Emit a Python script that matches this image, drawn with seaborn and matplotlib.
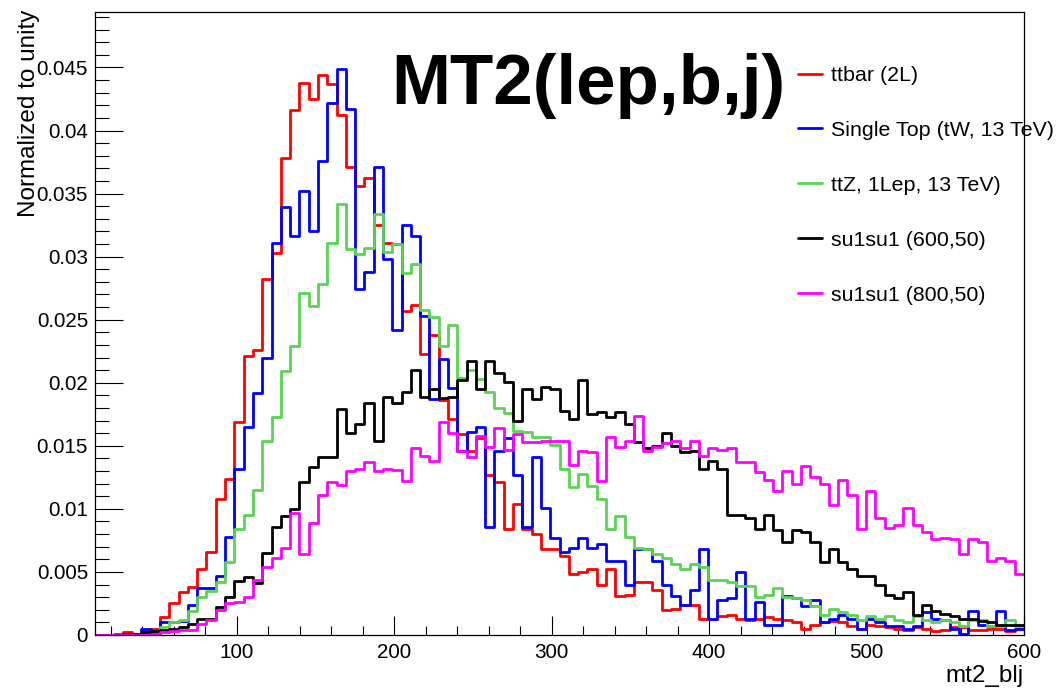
import numpy as np
import pandas as pd
import seaborn as sns
import matplotlib
matplotlib.use("Agg")
import matplotlib.pyplot as plt
from matplotlib.ticker import MultipleLocator, FormatStrFormatter
from matplotlib.lines import Line2D

# ---------------- data (100 bins from 10 to 600) ----------------
x_min, x_max, n_bins = 10, 600, 100

ttbar = [0, 0, 0.0001, 0.0002, 0.0001, 0.0004, 0.0005, 0.0014, 0.0025, 0.0034,
         0.0038, 0.0052, 0.0066, 0.0108, 0.0124, 0.0169, 0.0221, 0.0226, 0.0282, 0.0303,
         0.0378, 0.0416, 0.0438, 0.0425, 0.0444, 0.0437, 0.0412, 0.0371, 0.0356, 0.0362,
         0.0325, 0.0311, 0.0310, 0.0257, 0.0262, 0.0223, 0.0238, 0.0186, 0.0171, 0.0159,
         0.0146, 0.0156, 0.0127, 0.0121, 0.0084, 0.0104, 0.0084, 0.0080, 0.0068, 0.0068,
         0.0063, 0.0048, 0.0050, 0.0052, 0.0040, 0.0052, 0.0031, 0.0032, 0.0042, 0.0042,
         0.0036, 0.0020, 0.0021, 0.0024, 0.0024, 0.0013, 0.0013, 0.0015, 0.0016, 0.0013,
         0.0012, 0.0013, 0.0014, 0.0013, 0.0012, 0.0010, 0.0005, 0.0008, 0.0010, 0.0011,
         0.0010, 0.0007, 0.0005, 0.0008, 0.0007, 0.0006, 0.0005, 0.0004, 0.0006, 0.0005,
         0.0003, 0.0004, 0.0006, 0.0006, 0.0004, 0.0004, 0.0005, 0.0005, 0.0003, 0.0005]

single_top = [0, 0, 0, 0, 0.0001, 0.0005, 0.0001, 0.0010, 0.0010, 0.0011,
              0.0024, 0.0037, 0.0037, 0.0047, 0.0078, 0.0132, 0.0165, 0.0192, 0.0220, 0.0311,
              0.0339, 0.0316, 0.0352, 0.0320, 0.0376, 0.0422, 0.0449, 0.0417, 0.0274, 0.0288,
              0.0371, 0.0298, 0.0242, 0.0325, 0.0316, 0.0253, 0.0187, 0.0219, 0.0196, 0.0146,
              0.0161, 0.0165, 0.0086, 0.0146, 0.0156, 0.0127, 0.0086, 0.0141, 0.0101, 0.0077,
              0.0066, 0.0069, 0.0077, 0.0069, 0.0072, 0.0059, 0.0059, 0.0040, 0.0068, 0.0068,
              0.0059, 0.0040, 0.0031, 0.0024, 0.0036, 0.0068, 0.0013, 0.0028, 0.0029, 0.0050,
              0.0013, 0.0026, 0.0008, 0.0008, 0.0031, 0.0029, 0.0023, 0.0028, 0.0010, 0.0013,
              0.0016, 0.0013, 0.0005, 0.0013, 0.0010, 0.0007, 0.0007, 0.0005, 0.0007, 0.0018,
              0.0013, 0.0012, 0.0005, 0.0001, 0.0019, 0.0008, 0.0007, 0.0019, 0.0004, 0.0005]

ttz = [0, 0, 0, 0, 0.0001, 0.0002, 0.0003, 0.0006, 0.0010, 0.0012,
       0.0019, 0.0030, 0.0035, 0.0042, 0.0058, 0.0084, 0.0095, 0.0115, 0.0154, 0.0173,
       0.0209, 0.0229, 0.0271, 0.0261, 0.0278, 0.0311, 0.0342, 0.0306, 0.0302, 0.0307,
       0.0334, 0.0304, 0.0310, 0.0287, 0.0294, 0.0258, 0.0252, 0.0229, 0.0246, 0.0204,
       0.0210, 0.0203, 0.0193, 0.0180, 0.0176, 0.0162, 0.0161, 0.0157, 0.0157, 0.0151,
       0.0132, 0.0117, 0.0128, 0.0118, 0.0108, 0.0084, 0.0094, 0.0078, 0.0069, 0.0068,
       0.0064, 0.0061, 0.0056, 0.0052, 0.0056, 0.0054, 0.0044, 0.0044, 0.0042, 0.0039,
       0.0039, 0.0030, 0.0032, 0.0037, 0.0030, 0.0029, 0.0028, 0.0023, 0.0016, 0.0021,
       0.0018, 0.0016, 0.0012, 0.0015, 0.0013, 0.0015, 0.0012, 0.0010, 0.0015, 0.0012,
       0.0010, 0.0012, 0.0010, 0.0007, 0.0012, 0.0012, 0.0007, 0.0007, 0.0012, 0.0007]

su600 = [0, 0, 0, 0.0001, 0.0001, 0.0002, 0.0003, 0.0004, 0.0005, 0.0006,
         0.0009, 0.0013, 0.0013, 0.0022, 0.0030, 0.0043, 0.0046, 0.0041, 0.0065, 0.0086,
         0.0094, 0.0100, 0.0121, 0.0133, 0.0141, 0.0141, 0.0179, 0.0160, 0.0167, 0.0184,
         0.0154, 0.0189, 0.0184, 0.0193, 0.0210, 0.0189, 0.0195, 0.0188, 0.0189, 0.0202,
         0.0217, 0.0195, 0.0217, 0.0208, 0.0201, 0.0170, 0.0195, 0.0187, 0.0197, 0.0195,
         0.0178, 0.0171, 0.0202, 0.0175, 0.0177, 0.0173, 0.0177, 0.0167, 0.0153, 0.0148,
         0.0150, 0.0160, 0.0150, 0.0145, 0.0146, 0.0132, 0.0138, 0.0132, 0.0095, 0.0095,
         0.0093, 0.0084, 0.0095, 0.0083, 0.0074, 0.0083, 0.0082, 0.0074, 0.0058, 0.0068,
         0.0058, 0.0052, 0.0047, 0.0047, 0.0040, 0.0032, 0.0029, 0.0034, 0.0016, 0.0024,
         0.0019, 0.0017, 0.0015, 0.0013, 0.0013, 0.0011, 0.0010, 0.0008, 0.0008, 0.0008]

su800 = [0, 0, 0, 0, 0, 0, 0.0001, 0.0002, 0.0003, 0.0004,
         0.0004, 0.0009, 0.0012, 0.0020, 0.0025, 0.0026, 0.0030, 0.0044, 0.0054, 0.0061,
         0.0069, 0.0097, 0.0064, 0.0089, 0.0111, 0.0121, 0.0119, 0.0130, 0.0132, 0.0137,
         0.0130, 0.0132, 0.0131, 0.0122, 0.0148, 0.0142, 0.0138, 0.0169, 0.0160, 0.0146,
         0.0141, 0.0158, 0.0149, 0.0164, 0.0147, 0.0159, 0.0153, 0.0153, 0.0154, 0.0154,
         0.0154, 0.0135, 0.0146, 0.0145, 0.0122, 0.0157, 0.0149, 0.0154, 0.0174, 0.0146,
         0.0149, 0.0152, 0.0154, 0.0148, 0.0154, 0.0142, 0.0148, 0.0147, 0.0148, 0.0137,
         0.0137, 0.0129, 0.0123, 0.0114, 0.0130, 0.0120, 0.0134, 0.0125, 0.0120, 0.0103,
         0.0123, 0.0111, 0.0084, 0.0114, 0.0093, 0.0085, 0.0087, 0.0101, 0.0087, 0.0082,
         0.0076, 0.0077, 0.0076, 0.0064, 0.0076, 0.0074, 0.0059, 0.0061, 0.0059, 0.0048]

labels = ["ttbar (2L)", "Single Top (tW, 13 TeV)", "ttZ, 1Lep, 13 TeV)",
          "su1su1 (600,50)", "su1su1 (800,50)"]
series = [ttbar, single_top, ttz, su600, su800]
colors = ["#ff0000", "#0000ff", "#59d454", "#000000", "#ff00ff"]

title = "MT2(lep,b,j)"
x_label = "mt2_blj"
y_label = "Normalized to unity"

# ---------------- plotting ----------------
sns.set_style("ticks")
plt.rcParams['font.family'] = ['Liberation Sans', 'DejaVu Sans']
plt.rcParams.update({"text.color": "black", "axes.labelcolor": "black",
                     "xtick.color": "black", "ytick.color": "black",
                     "axes.edgecolor": "black"})

W, H = 1064, 688
fig = plt.figure(figsize=(W / 100, H / 100), dpi=100)
ax = fig.add_axes([95 / W, 1 - 635 / H, 929 / W, 623 / H])

bin_w = (x_max - x_min) / n_bins
centers = x_min + bin_w * (np.arange(n_bins) + 0.5)

lw = 2.0
for vals, col, lab in zip(series, colors, labels):
    df = pd.DataFrame({"x": centers, "w": vals})
    sns.histplot(data=df, x="x", weights="w", bins=n_bins, binrange=(x_min, x_max),
                 element="step", fill=False, color=col, linewidth=lw, ax=ax)

ax.set_xlim(x_min, x_max)
ax.set_ylim(0, 0.0494)
ax.set_xlabel("")
ax.set_ylabel("")

ax.xaxis.set_major_locator(MultipleLocator(100))
ax.xaxis.set_minor_locator(MultipleLocator(20))
ax.yaxis.set_major_locator(MultipleLocator(0.005))
ax.yaxis.set_minor_locator(MultipleLocator(0.001))
ax.yaxis.set_major_formatter(FormatStrFormatter("%g"))
ax.xaxis.set_major_formatter(FormatStrFormatter("%g"))

ax.tick_params(axis="y", which="major", direction="in", length=20, width=0.8,
               labelsize=14.9, pad=5, right=False, colors="black")
ax.tick_params(axis="y", which="minor", direction="in", length=10, width=0.8,
               right=False, colors="black")
ax.tick_params(axis="x", which="major", direction="in", length=13.5, width=0.8,
               labelsize=14.9, pad=6, top=False, colors="black")
ax.tick_params(axis="x", which="minor", direction="in", length=6.7, width=0.8,
               top=False, colors="black")
for s in ax.spines.values():
    s.set_visible(True)
    s.set_linewidth(0.9)
    s.set_color("black")

# axis titles (ROOT style)
fig.text(1024 / W, 1 - 682 / H, x_label, ha="right", va="baseline", fontsize=17.5,
         color="black")
fig.text(29 / W, 1 - 10 / H, y_label, ha="center", va="top", rotation=90,
         fontsize=17.5, color="black")

# title
fig.text(588 / W, 1 - 86 / H, title, ha="center", va="center", fontsize=51,
         fontweight="bold", color="black")

# legend
handles = [Line2D([], [], color=c, lw=lw) for c in colors]
leg = fig.legend(handles, labels, loc="upper left",
                 bbox_to_anchor=(798 / W, 1 - 66 / H), frameon=False,
                 fontsize=15.4, handlelength=1.1, handletextpad=0.45,
                 labelspacing=1.68, borderpad=0, borderaxespad=0)
for t in leg.get_texts():
    t.set_color("black")

fig.savefig("out.png", dpi=100)
